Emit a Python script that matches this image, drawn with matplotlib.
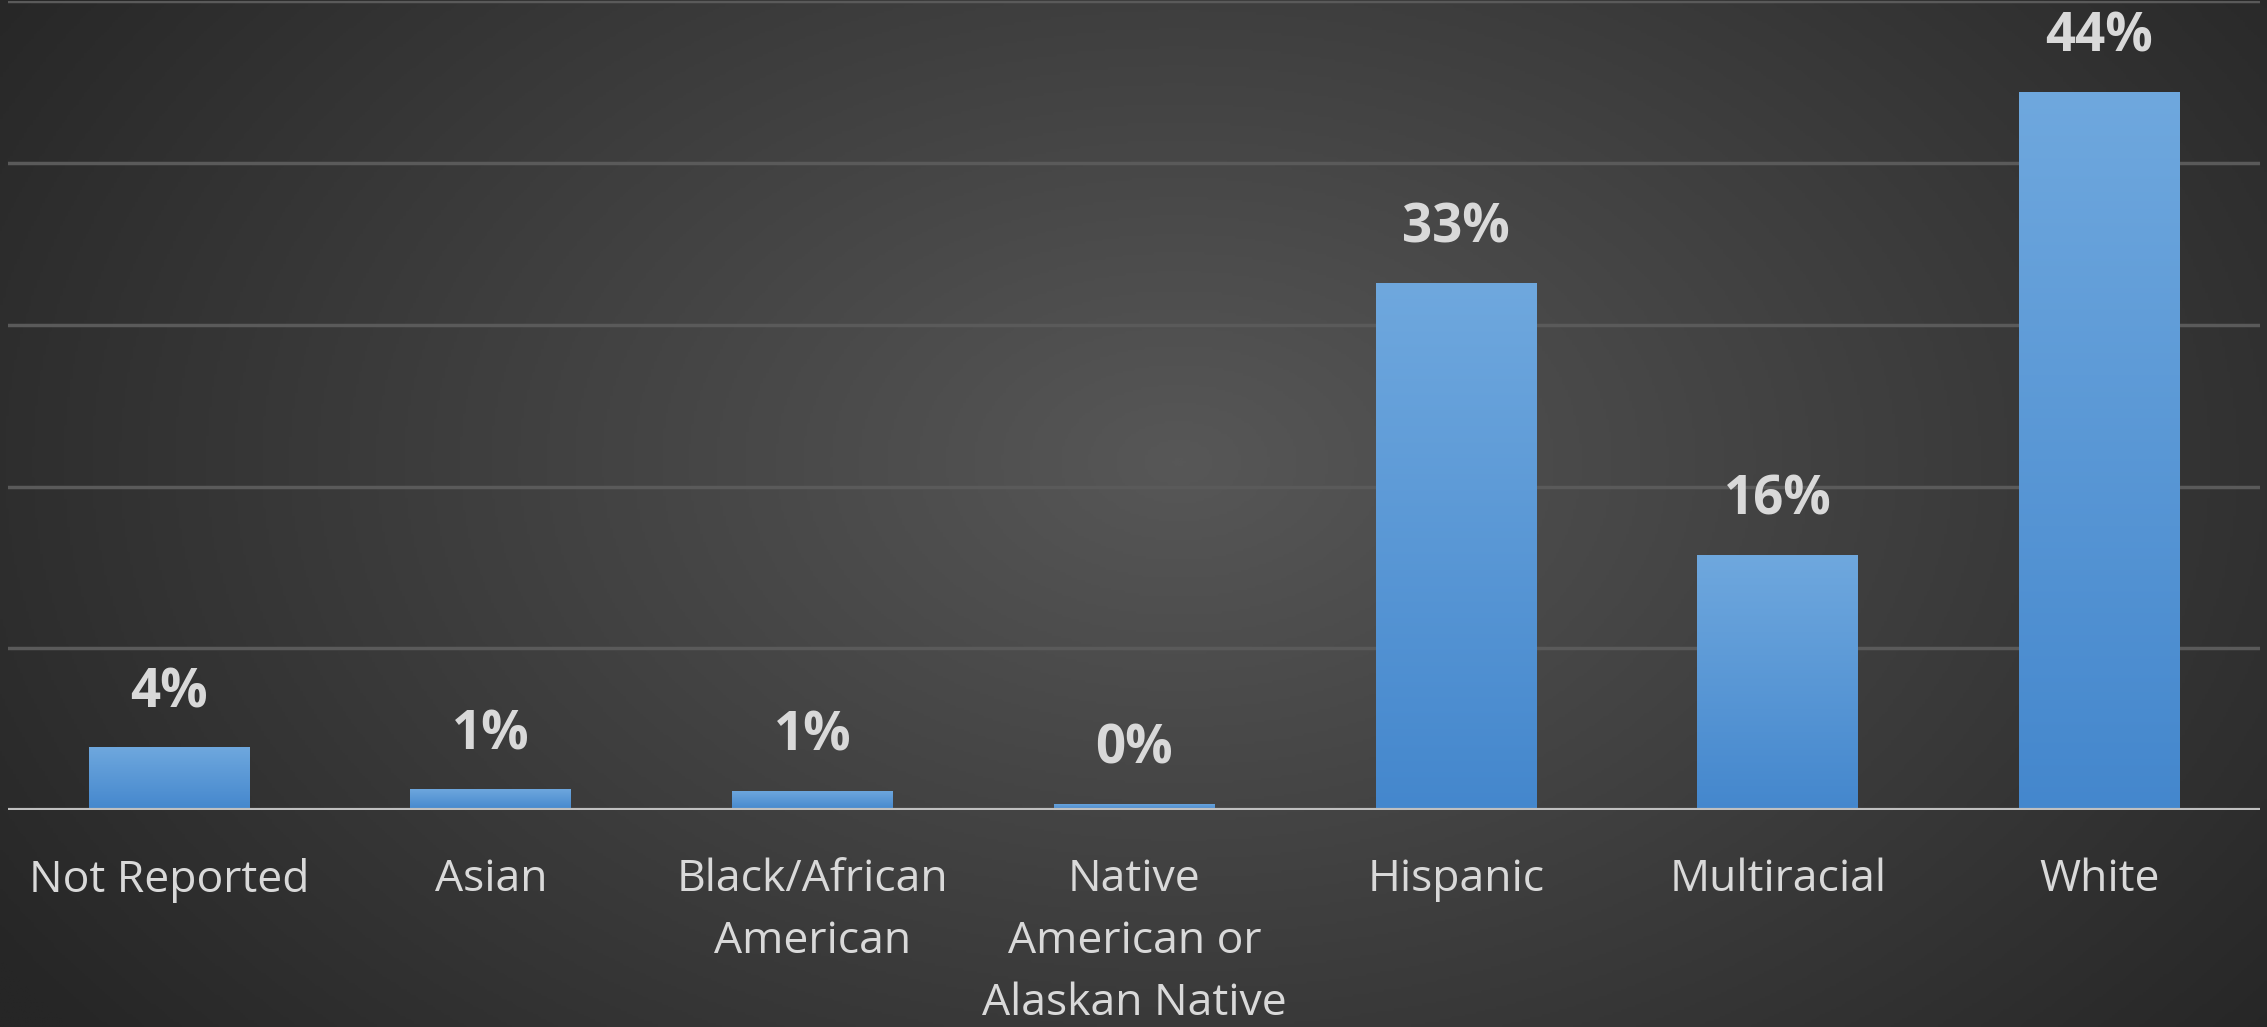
import numpy as np
import matplotlib
matplotlib.use("Agg")
import matplotlib.pyplot as plt
from matplotlib.colors import LinearSegmentedColormap

# Dados do gráfico
categories = ["Not Reported", "Asian", "Black/African\nAmerican",
              "Native\nAmerican or\nAlaskan Native", "Hispanic",
              "Multiracial", "White"]
values = [3.9, 1.3, 1.2, 0.4, 32.6, 15.8, 44.4]
labels = ["4%", "1%", "1%", "0%", "33%", "16%", "44%"]

plt.rcParams['font.family'] = ['Open Sans', 'DejaVu Sans']

fig = plt.figure(figsize=(22.67, 10.27), dpi=100)

# Fundo com gradiente radial
bg = fig.add_axes([0, 0, 1, 1])
yy, xx = np.mgrid[0:1:400j, 0:1:800j]
dist = np.sqrt(((xx - 0.52) / 0.62) ** 2 + ((yy - 0.55) / 0.9) ** 2)
dist = np.clip(dist, 0, 1)
bg_cmap = LinearSegmentedColormap.from_list("bg", ["#575757", "#262626"])
bg.imshow(dist, cmap=bg_cmap, aspect='auto', extent=[0, 1, 0, 1], origin='lower')
bg.set_axis_off()

ax = fig.add_axes([0.0037, 0.211, 0.9933, 0.788])
ax.set_facecolor('none')
x = np.arange(len(categories))
bars = ax.bar(x, values, width=0.5, color="#5b9bd5", zorder=3)

# Gradiente nas barras
bar_cmap = LinearSegmentedColormap.from_list("bar", ["#4487cd", "#6fa8de"])
grad = np.linspace(0, 1, 256).reshape(-1, 1)
for b in bars:
    im = ax.imshow(grad, cmap=bar_cmap, aspect='auto', origin='lower',
                   extent=[b.get_x(), b.get_x() + b.get_width(), 0, b.get_height()],
                   zorder=4)
    im.set_clip_path(b)

for xi, v, lab in zip(x, values, labels):
    ax.annotate(lab, (xi, v), xytext=(0, 39), textcoords='offset points',
                ha='center', va='center', fontsize=38, fontweight='bold',
                color='#d9d9d9')

ax.set_xlim(-0.5, len(categories) - 0.5)
ax.set_ylim(0, 50)
ax.set_yticks(np.arange(0, 51, 10))
ax.grid(axis='y', color='#5a5a5a', linewidth=2.5, zorder=0)
ax.axhline(0, color='#c0c0c0', linewidth=3, zorder=5)
for s in ax.spines.values():
    s.set_visible(False)
ax.tick_params(axis='y', left=False, labelleft=False)
ax.tick_params(axis='x', length=0, pad=34, labelsize=32, labelcolor='#d9d9d9')
ax.set_xticks(x)
ax.set_xticklabels(categories, linespacing=1.52)

fig.savefig("out.png", dpi=100)
